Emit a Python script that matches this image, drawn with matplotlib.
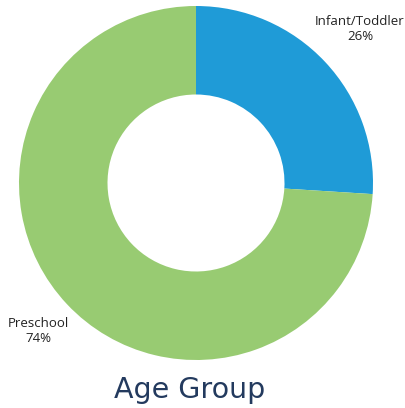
import matplotlib
matplotlib.use("Agg")
import matplotlib.pyplot as plt

categories = ["Infant/Toddler", "Preschool"]
values = [26, 74]
colors = ["#1f9bd7", "#98cb72"]
title = "Age Group"

W, H = 405, 408
fig = plt.figure(figsize=(W / 100, H / 100), dpi=100)
cx, cy, r = 196, 183, 177
ax = fig.add_axes([(cx - r) / W, (H - cy - r) / H, 2 * r / W, 2 * r / H])
ax.pie(values, colors=colors, startangle=90, counterclock=False,
       radius=1, wedgeprops=dict(width=0.5, linewidth=0))
ax.set_xlim(-1, 1)
ax.set_ylim(-1, 1)
ax.set_aspect("equal")
ax.axis("off")

label_pos = [(0.927, 0.87), (-0.893, -0.836)]
for cat, v, (x, y) in zip(categories, values, label_pos):
    ax.text(x, y, f"{cat}\n{v}%", ha="center", va="center", fontsize=9.5,
            family="Open Sans", color="#222222", linespacing=1.15, clip_on=False)

fig.text(190 / W, 1 - 398 / H, title, ha="center", va="baseline", fontsize=20.5,
         family="DejaVu Sans", color="#233a5e")

fig.savefig("out.png", dpi=100)
